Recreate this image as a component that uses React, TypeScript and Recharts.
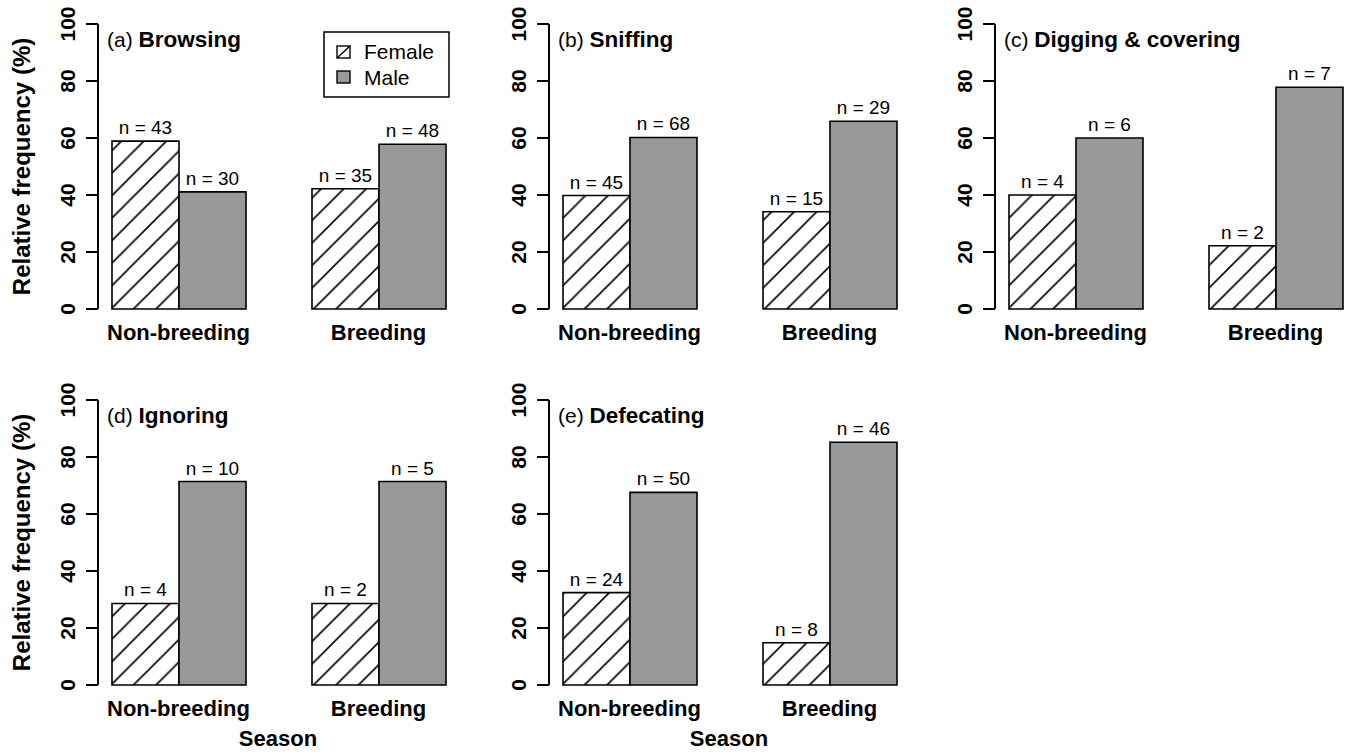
import React from 'react';
import { BarChart, Bar, XAxis, YAxis, LabelList } from 'recharts';

const seasons = ['Non-breeding', 'Breeding'];
const panelLabels = ['(a)', '(b)', '(c)', '(d)', '(e)'];
const behaviours = ['Browsing', 'Sniffing', 'Digging & covering', 'Ignoring', 'Defecating'];
// relative frequency (%) per season: [Non-breeding, Breeding]
const femalePct = [[58.9, 42.2], [39.8, 34.1], [40.0, 22.2], [28.6, 28.6], [32.4, 14.8]];
const malePct = [[41.1, 57.8], [60.2, 65.9], [60.0, 77.8], [71.4, 71.4], [67.6, 85.2]];
const femaleN = [[43, 35], [45, 15], [4, 2], [4, 2], [24, 8]];
const maleN = [[30, 48], [68, 29], [6, 7], [10, 5], [50, 46]];
const yTicks = [0, 20, 40, 60, 80, 100];

const FONT = '"Liberation Sans", Arial, Helvetica, sans-serif';
const GREY = '#999999';

// axis x position of each column, row tops
const colAxis = [98, 549, 995];
const rowTop = [0, 376];
const CH_W = 452;
const CH_H = 376;
const AXIS_X = 98;
const PLOT_TOP = 24;
const PLOT_BOTTOM = 309;

const YTick = (props: any) => {
  const { y, payload } = props;
  return (
    <text
      x={75}
      y={y}
      transform={`rotate(-90, 75, ${y})`}
      textAnchor="middle"
      fontSize={21}
      fontWeight="bold"
      fontFamily={FONT}
      fill="#000"
    >
      {payload.value}
    </text>
  );
};

const XTick = (props: any) => {
  const { x, y, payload } = props;
  return (
    <text x={x} y={y + 31} textAnchor="middle" fontSize={22} fontWeight="bold" fontFamily={FONT} fill="#000">
      {payload.value}
    </text>
  );
};

const nLabel = (props: any) => {
  const { x, y, width, value } = props;
  return (
    <text x={x + width / 2} y={y - 7} textAnchor="middle" fontSize={19} fontFamily={FONT} fill="#000">
      {`n = ${value}`}
    </text>
  );
};

const Legend = () => (
  <g fontFamily={FONT}>
    <rect x={324} y={32} width={125} height={65} fill="#fff" stroke="#000" strokeWidth={1.5} />
    <rect x={337} y={46} width={13} height={12} fill="#fff" stroke="#000" strokeWidth={1.4} />
    <line x1={337} y1={58} x2={350} y2={46} stroke="#000" strokeWidth={1.4} />
    <text x={364} y={59} fontSize={21} fill="#000">Female</text>
    <rect x={337} y={71} width={13} height={12} fill={GREY} stroke="#000" strokeWidth={1.4} />
    <text x={364} y={85} fontSize={21} fill="#000">Male</text>
  </g>
);

function Panel({ idx }: { idx: number }) {
  const col = idx % 3;
  const row = Math.floor(idx / 3);
  const data = seasons.map((s, i) => ({
    season: s,
    female: femalePct[idx][i],
    male: malePct[idx][i],
    nF: femaleN[idx][i],
    nM: maleN[idx][i],
  }));
  const midY = (PLOT_TOP + PLOT_BOTTOM) / 2;

  return (
    <div style={{ position: 'absolute', left: colAxis[col] - AXIS_X, top: rowTop[row] }}>
      <BarChart
        width={CH_W}
        height={CH_H}
        data={data}
        margin={{ top: PLOT_TOP, right: 0, bottom: 0, left: 0 }}
        barGap={0}
        barCategoryGap={33.5}
      >
        <XAxis
          dataKey="season"
          type="category"
          height={CH_H - PLOT_BOTTOM}
          axisLine={false}
          tickLine={false}
          tickSize={0}
          tickMargin={0}
          padding={{ left: -19.5, right: -26.5 }}
          tick={<XTick />}
          interval={0}
        />
        <YAxis
          type="number"
          domain={[0, 100]}
          ticks={yTicks}
          width={AXIS_X}
          tickSize={12}
          tickMargin={2}
          axisLine={{ stroke: '#000', strokeWidth: 2 }}
          tickLine={{ stroke: '#000', strokeWidth: 2 }}
          tick={<YTick />}
          interval={0}
        />
        <Bar dataKey="female" fill="url(#hatch)" stroke="#000" strokeWidth={1.6} isAnimationActive={false}>
          <LabelList dataKey="nF" content={nLabel} />
        </Bar>
        <Bar dataKey="male" fill={GREY} stroke="#000" strokeWidth={1.6} isAnimationActive={false}>
          <LabelList dataKey="nM" content={nLabel} />
        </Bar>
        <text x={AXIS_X + 9} y={47} fontFamily={FONT} fontSize={21} fill="#000">
          <tspan>{panelLabels[idx]} </tspan>
          <tspan fontWeight="bold" fontSize={22.5}>{behaviours[idx]}</tspan>
        </text>
        {idx === 0 && <Legend />}
        {col === 0 && (
          <text
            x={30}
            y={midY}
            transform={`rotate(-90, 30, ${midY})`}
            textAnchor="middle"
            fontFamily={FONT}
            fontSize={24}
            fontWeight="bold"
            fill="#000"
          >
            Relative frequency (%)
          </text>
        )}
        {row === 1 && (
          <text x={AXIS_X + 180} y={370} textAnchor="middle" fontFamily={FONT} fontSize={22} fontWeight="bold" fill="#000">
            Season
          </text>
        )}
      </BarChart>
    </div>
  );
}

export default function App() {
  return (
    <div
      style={{
        position: 'absolute',
        left: 0,
        top: 0,
        width: 1348,
        height: 752,
        background: '#fff',
        overflow: 'hidden',
      }}
    >
      <svg width={0} height={0} style={{ position: 'absolute' }}>
        <defs>
          <pattern id="hatch" patternUnits="userSpaceOnUse" width={22.5} height={22.5} x={15}>
            <rect width={22.5} height={22.5} fill="#fff" />
            <path d="M-2,2 L2,-2 M0,22.5 L22.5,0 M20.5,24.5 L24.5,20.5" stroke="#000" strokeWidth={1.6} />
          </pattern>
        </defs>
      </svg>
      {behaviours.map((_, i) => (
        <Panel key={i} idx={i} />
      ))}
    </div>
  );
}
